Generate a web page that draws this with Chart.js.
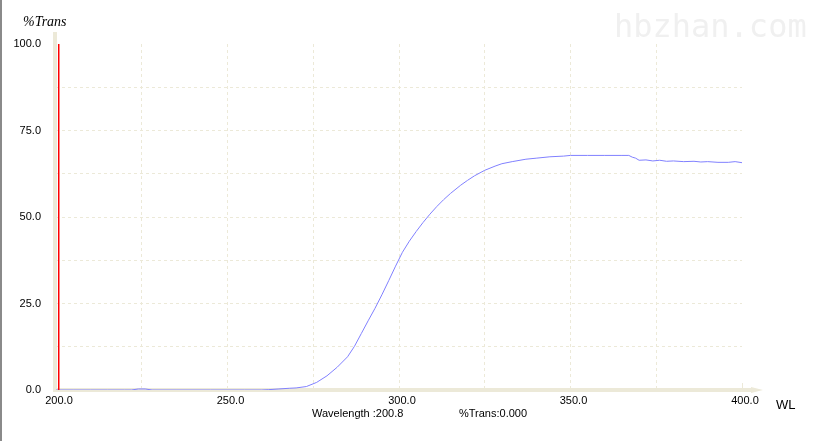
<!DOCTYPE html>
<html>
<head>
<meta charset="utf-8">
<script src="https://cdn.jsdelivr.net/npm/chart.js@4/dist/chart.umd.min.js"></script>
<style>
  html, body { margin: 0; padding: 0; background: #fff; }
  #wrap { width: 822px; height: 441px; position: relative; }
</style>
</head>
<body>
<div id="wrap"><canvas id="chart" width="822" height="441"></canvas></div>
<script>
// spectrum (wavelength nm, %T)
const wavelength = [200, 205, 210, 215, 220, 222, 224, 226, 228, 235, 245, 255, 260, 262, 265, 268, 270, 273,
  276, 279, 282, 285, 287, 289, 291, 293, 295, 297, 299, 301, 303, 305, 307, 309, 311, 313, 315, 318, 320, 322,
  325, 328, 330, 333, 337, 340, 344, 348, 350, 355, 360, 365, 367, 368, 369, 370, 372, 374, 376, 378, 380,
  383, 386, 388, 390, 393, 396, 398, 400];
const transmittance = [0, 0, 0, 0, 0, 0, 0.3, 0.3, 0, 0, 0, 0, 0, 0.1, 0.3, 0.5, 0.6, 1.0,
  2.2, 4.1, 6.6, 9.6, 12.6, 16.3, 20.0, 23.6, 27.5, 31.6, 35.8, 39.8, 43.0, 45.8, 48.4, 50.8, 53.0, 55.0, 56.8, 59.2, 60.6, 61.9,
  63.5, 64.7, 65.4, 66.0, 66.7, 67.0, 67.4, 67.6, 67.8, 67.8, 67.8, 67.8, 67.8, 67.3, 67.0, 66.4, 66.5, 66.2, 66.4, 66.1, 66.2,
  66.0, 66.1, 65.9, 66.0, 65.8, 65.8, 66.0, 65.7];
const cursorWL = 200.8;
const cursorT = [0, 100];
const xTicks = [200, 250, 300, 350, 400];
const yTicks = [0, 25, 50, 75, 100];

const axisCol = "#ece9d8";
const font = "'Liberation Sans', Arial, sans-serif";

const decor = {
  id: 'decor',
  beforeDatasetsDraw(chart) {
    const c = chart.ctx, a = chart.chartArea;
    c.save();
    c.fillStyle = axisCol;
    c.strokeStyle = axisCol;
    // y axis
    c.lineWidth = 4;
    c.beginPath(); c.moveTo(a.left - 1, a.top - 12); c.lineTo(a.left - 1, a.bottom + 2); c.stroke();
    // x axis
    c.beginPath(); c.moveTo(a.left - 3, a.bottom); c.lineTo(a.right + 12, a.bottom); c.stroke();
    c.beginPath();
    c.moveTo(a.right + 9, a.bottom - 3); c.lineTo(a.right + 21, a.bottom); c.lineTo(a.right + 9, a.bottom + 3);
    c.fill();
    c.lineWidth = 1;
    c.beginPath(); c.moveTo(a.right + 0.5, a.bottom - 7); c.lineTo(a.right + 0.5, a.bottom); c.stroke();
    c.restore();
  },
  afterDraw(chart) {
    const c = chart.ctx;
    c.save();
    // window edge
    c.fillStyle = "#8a8a8a";
    c.fillRect(0, 0, 2, 441);
    // watermark
    c.fillStyle = "#f0f0f0";
    c.font = "32px 'DejaVu Sans Mono', monospace";
    c.textBaseline = "alphabetic";
    c.fillText("hbzhan.com", 614, 37);
    c.fillStyle = "#000";
    c.font = "italic 14px 'Liberation Serif', serif";
    c.textBaseline = "middle";
    c.fillText("%Trans", 23, 22);
    c.font = "13px " + font;
    c.fillText("WL", 776, 405);
    c.font = "11px " + font;
    c.fillText("Wavelength :" + cursorWL.toFixed(1), 312, 414);
    c.fillText("%Trans:" + (0).toFixed(3), 459, 414);
    c.restore();
  }
};

const gridColor = (edge) => (ctx) => (edge.includes(ctx.tick.value) ? 'rgba(0,0,0,0)' : axisCol);

new Chart(document.getElementById('chart'), {
  type: 'scatter',
  data: {
    datasets: [
      {
        label: 'cursor',
        data: cursorT.map(t => ({ x: cursorWL, y: t })),
        showLine: true,
        borderColor: '#ff0000',
        borderWidth: 1.5,
        pointRadius: 0
      },
      {
        label: '%Trans',
        data: wavelength.map((w, i) => ({ x: w, y: transmittance[i] })),
        showLine: true,
        borderColor: '#8080ff',
        borderWidth: 1,
        pointRadius: 0,
        tension: 0
      }
    ]
  },
  options: {
    responsive: false,
    animation: false,
    layout: { padding: { top: 44, right: 80, bottom: 0, left: 0 } },
    plugins: { legend: { display: false }, tooltip: { enabled: false } },
    scales: {
      x: {
        type: 'linear', min: 200, max: 400,
        afterFit(s) { s.height = 51; },
        border: { display: false, dash: [3, 3] },
        grid: { color: gridColor([200, 400]), drawTicks: false, lineWidth: 1 },
        ticks: {
          stepSize: 25, padding: 4, labelOffset: 3, maxRotation: 0, autoSkip: false,
          color: '#000', font: { family: font, size: 11 },
          callback: v => (xTicks.includes(v) ? v.toFixed(1) : '')
        }
      },
      y: {
        min: 0, max: 100,
        afterFit(s) { s.width = 56; },
        border: { display: false, dash: [3, 3] },
        grid: { color: gridColor([0, 100]), drawTicks: false, lineWidth: 1 },
        ticks: {
          stepSize: 12.5, padding: 15, autoSkip: false,
          color: '#000', font: { family: font, size: 11 },
          callback: v => (yTicks.includes(v) ? v.toFixed(1) : '')
        }
      }
    }
  },
  plugins: [decor]
});
</script>
</body>
</html>
